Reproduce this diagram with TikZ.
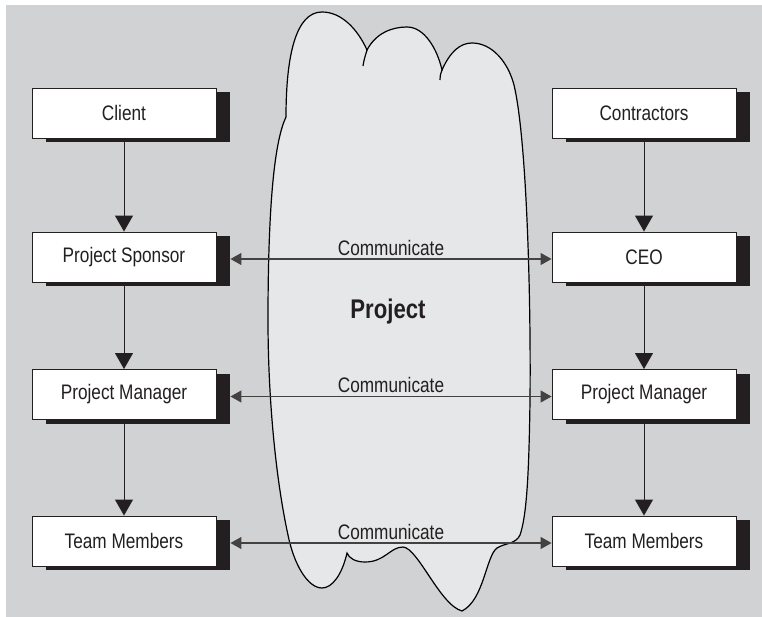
\documentclass[tikz,border=0pt]{standalone}
\usepackage{fontspec}
\setmainfont{Liberation Sans}[FakeStretch=0.82]
\usetikzlibrary{arrows.meta,shadows}
\definecolor{panel}{HTML}{D1D2D4}
\definecolor{cloudfill}{HTML}{E6E7E8}
\definecolor{ink}{HTML}{231F20}

\begin{document}
\begin{tikzpicture}[x=1pt,y=-1pt,
  rolebox/.style={draw=ink, line width=0.9pt, fill=white,
    minimum width=184pt, minimum height=50pt, inner sep=0pt,
    font=\fontsize{21}{25}\selectfont, text=ink,
    drop shadow={shadow xshift=14pt, shadow yshift=-4pt, opacity=1, fill=ink}},
  flow/.style={-{Triangle[width=18pt,length=16pt]}, line width=1pt, draw=ink},
  talk/.style={{Triangle[width=12pt,length=11pt]}-{Triangle[width=12pt,length=11pt]},
    line width=1.2pt, draw=ink!85},
  talklabel/.style={above=3pt, inner sep=0pt, text=ink, font=\fontsize{21}{25}\selectfont},
  cloudline/.style={draw=black, line width=1.2pt}]

\useasboundingbox (0,0) rectangle (762,617);
\fill[panel] (6,5) rectangle (762,617);

% the project cloud
\path[cloudline, fill=cloudfill]
  (286,117) .. controls (286,55) and (296,12) .. (322,12)
  .. controls (342,12) and (358,30) .. (367,50)
  .. controls (376,33) and (392,27) .. (407,27)
  .. controls (424,27) and (437,48) .. (442,70)
  .. controls (450,52) and (460,43) .. (472,43)
  .. controls (492,43) and (508,62) .. (514,85)
  .. controls (527,140) and (531,300) .. (530,400)
  .. controls (529,470) and (527,515) .. (520,535)
  .. controls (516,544) and (505,543) .. (497,548)
  .. controls (486,556) and (484,600) .. (462,611)
  .. controls (440,605) and (418,548) .. (403,547)
  .. controls (390,547) and (385,562) .. (365,562)
  .. controls (355,562) and (349,558) .. (347,553)
  .. controls (342,575) and (332,588) .. (322,588)
  .. controls (308,588) and (294,565) .. (288,535)
  .. controls (276,480) and (268,400) .. (268,320)
  .. controls (268,200) and (275,140) .. (286,117) -- cycle;
\draw[cloudline] (363,66) .. controls (364,60) .. (367,50);
\draw[cloudline] (440,80) .. controls (440,76) .. (442,70);

\node[font=\bfseries\fontsize{27}{31}\selectfont, text=ink] (proj) at (388,312) {Project};

% client side
\node[rolebox] (client)  at (124,113)   {Client};
\node[rolebox] (sponsor) at (124,257)   {Project Sponsor};
\node[rolebox] (pmL)     at (124,394.5) {Project Manager};
\node[rolebox] (teamL)   at (124,541)   {Team Members};

% contractor side
\node[rolebox] (contr)   at (644,113)   {Contractors};
\node[rolebox] (ceo)     at (644,257)   {CEO};
\node[rolebox] (pmR)     at (644,394.5) {Project Manager};
\node[rolebox] (teamR)   at (644,541)   {Team Members};

% reporting lines
\draw[flow] (client) -- (sponsor);
\draw[flow] (sponsor) -- (pmL);
\draw[flow] (pmL) -- (teamL);
\draw[flow] (contr) -- (ceo);
\draw[flow] (ceo) -- (pmR);
\draw[flow] (pmR) -- (teamR);

% communication across the project
\draw[talk] ([shift={(14pt,-2pt)}]sponsor.east) -- node[talklabel] {Communicate} ([yshift=-2pt]ceo.west);
\draw[talk] ([shift={(14pt,-2pt)}]pmL.east) -- node[talklabel] {Communicate} ([yshift=-2pt]pmR.west);
\draw[talk] ([shift={(14pt,-2pt)}]teamL.east) -- node[talklabel] {Communicate} ([yshift=-2pt]teamR.west);

\end{tikzpicture}
\end{document}
